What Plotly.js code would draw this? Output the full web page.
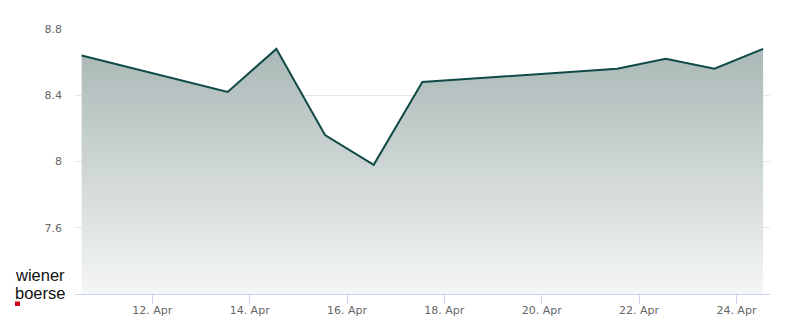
<!DOCTYPE html>
<html>
<head>
<meta charset="utf-8">
<script src="https://cdn.plot.ly/plotly-3.0.1.min.js"></script>
<style>
html,body{margin:0;padding:0;background:#fff;}
#chart{width:800px;height:324px;}
</style>
</head>
<body>
<div id="chart"></div>
<script>
const dates = ['2025-04-10 13:10','2025-04-13 13:10','2025-04-14 13:10','2025-04-15 13:10','2025-04-16 13:10','2025-04-17 13:10','2025-04-21 13:10','2025-04-22 13:10','2025-04-23 13:10','2025-04-24 13:10'];
const prices = [8.64, 8.42, 8.68, 8.16, 7.98, 8.48, 8.56, 8.62, 8.56, 8.68];
const yTicks = [7.6, 8, 8.4, 8.8];
const yTickText = ['7.6', '8', '8.4', '8.8'];
const logoLines = ['wiener', 'boerse'];

const trace = {
  x: dates, y: prices, type: 'scatter', mode: 'lines',
  line: {color: '#0f4a46', width: 2},
  fill: 'tozeroy',
  fillgradient: {type: 'vertical', start: 7.2, stop: 8.68,
    colorscale: [[0, '#f5f6f6'], [1, '#a9b8b6']]},
  hoverinfo: 'skip'
};

const px = v => (v - 75) / 695;
const py = v => (294 - v) / 265;

const layout = {
  width: 800, height: 324,
  margin: {l: 75, r: 30, t: 29, b: 30},
  paper_bgcolor: '#ffffff', plot_bgcolor: '#ffffff',
  showlegend: false,
  font: {family: 'DejaVu Sans, sans-serif', size: 11, color: '#666666'},
  xaxis: {
    type: 'date',
    range: ['2025-04-10 09:53', '2025-04-24 16:34'],
    tick0: '2025-04-12', dtick: 2 * 86400000,
    tickformat: '%-d. %b',
    showgrid: false, zeroline: false,
    showline: true, linecolor: '#ccd6eb', linewidth: 1,
    ticks: 'outside', ticklen: 9, tickcolor: '#ccd6eb', tickwidth: 1,
    ticklabelstandoff: -3,
    tickfont: {size: 11, color: '#666666'}
  },
  yaxis: {
    range: [7.2, 8.8],
    tickvals: yTicks, ticktext: yTickText,
    showgrid: true, gridcolor: '#e6e6e6', gridwidth: 1,
    zeroline: false, showline: false, ticks: '',
    ticklabelstandoff: 12,
    tickfont: {size: 11, color: '#666666'}
  },
  annotations: [
    {xref: 'paper', yref: 'paper', x: px(13.5), y: py(275), xanchor: 'left', yanchor: 'middle',
     text: logoLines[0], showarrow: false, borderpad: 0,
     font: {family: 'Liberation Sans, Arial, sans-serif', size: 16.5, color: '#111111'}},
    {xref: 'paper', yref: 'paper', x: px(13.5), y: py(292.5), xanchor: 'left', yanchor: 'middle',
     text: logoLines[1], showarrow: false, borderpad: 0,
     font: {family: 'Liberation Sans, Arial, sans-serif', size: 16.5, color: '#111111'}}
  ],
  shapes: [
    {type: 'rect', xref: 'paper', yref: 'paper',
     x0: px(15), x1: px(20), y0: py(306), y1: py(301.5),
     fillcolor: '#d0021b', line: {width: 0}}
  ]
};

Plotly.newPlot('chart', [trace], layout, {displayModeBar: false, staticPlot: true});
</script>
</body>
</html>
